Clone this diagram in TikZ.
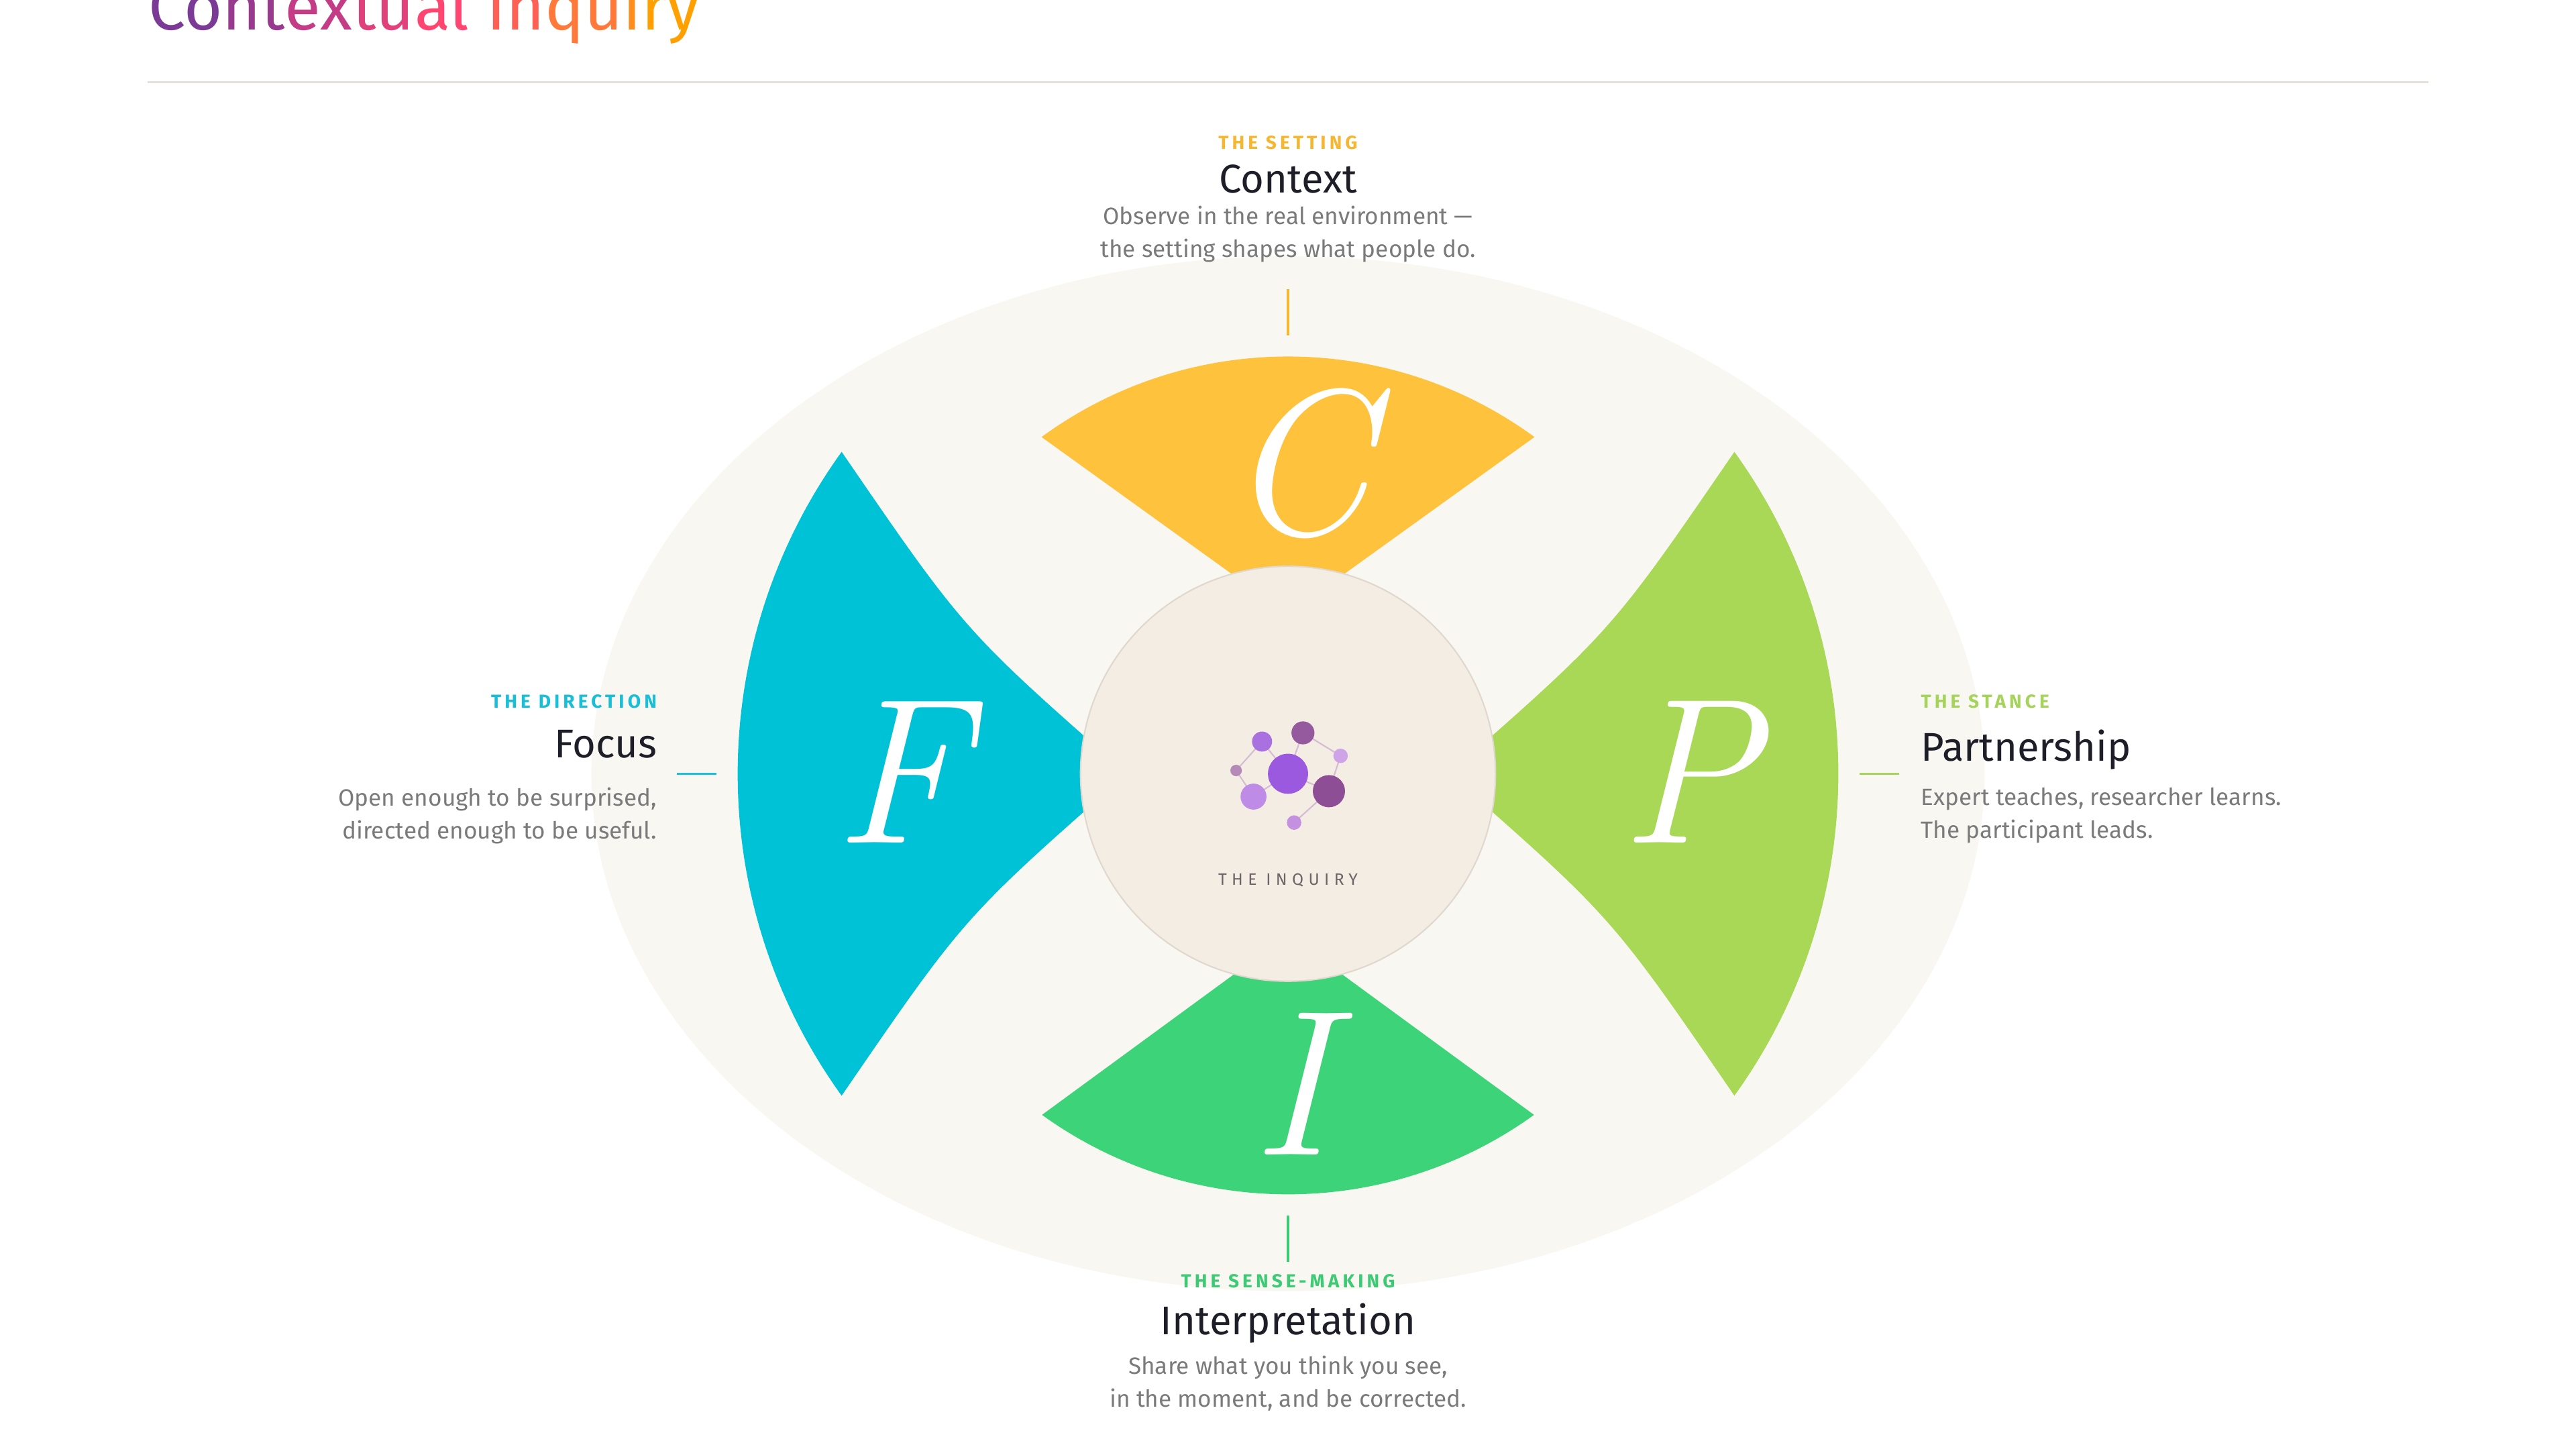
\documentclass[tikz,border=0pt]{standalone}
\usepackage{fontspec}
\setmainfont{Fira Sans}
\newfontfamily\serifit{Latin Modern Roman}
\usetikzlibrary{positioning, calc}
\definecolor{bgoval}{HTML}{F9F7F2}
\definecolor{hubfill}{HTML}{F4EDE3}
\definecolor{hubline}{HTML}{E0D8CE}
\definecolor{cyel}{HTML}{FFC23C}
\definecolor{fcyan}{HTML}{00C2D6}
\definecolor{plime}{HTML}{A8D856}
\definecolor{igreen}{HTML}{3DD378}
\definecolor{lblyel}{HTML}{F5B731}
\definecolor{lblcyan}{HTML}{19BFD6}
\definecolor{lbllime}{HTML}{A6D35B}
\definecolor{lblgreen}{HTML}{3CCB74}
\definecolor{headtxt}{HTML}{1E1E28}
\definecolor{desctxt}{HTML}{7A7A7A}
\definecolor{hubtxt}{HTML}{6E6468}
\definecolor{bond}{HTML}{C9A6CF}
\definecolor{tA}{HTML}{7B3A96}
\definecolor{tB}{HTML}{C43C85}
\definecolor{tC}{HTML}{FF4570}
\definecolor{tD}{HTML}{FF7A3A}
\definecolor{tE}{HTML}{FFA000}
\tikzstyle{kicker} = [font=\fontsize{8}{10}\selectfont\bfseries\addfontfeature{LetterSpace=18}, inner sep=0pt]
\tikzstyle{head} = [font=\fontsize{17}{20}\selectfont, text=headtxt, inner sep=0pt]
\tikzstyle{desc} = [font=\fontsize{10}{14}\selectfont, text=desctxt, inner sep=0pt]
\tikzstyle{bigletter} = [font=\serifit\itshape\fontsize{88}{88}\selectfont, text=white]
\tikzstyle{tick} = [line width=1pt]
\newcommand{\tl}[2]{\textcolor{#1}{#2}}

\begin{document}
\begin{tikzpicture}[x=0.02449cm, y=0.02449cm]
\useasboundingbox (0,0) rectangle (1568,883);
% title and rule
\node(title)[anchor=base west, inner sep=0pt, font=\fontsize{28}{30}\selectfont] at (90,865)
  {\tl{tA}{Co}\tl{tA!60!tB}{nt}\tl{tB}{ex}\tl{tB!50!tC}{tu}\tl{tC}{al} \tl{tC!50!tD}{In}\tl{tD}{qu}\tl{tD!50!tE}{i}\tl{tE}{ry}};
\draw[hubline!80, line width=0.8pt] (90,833) -- (1478,833);

% backdrop
\coordinate(ctr) at (784,412);
\fill[bgoval] (ctr) ellipse [x radius=424, y radius=315];

% petals
\fill[cyel] ($(ctr)+(0,97)$) -- ($(ctr)+(126.2:254)$) arc[start angle=126.2, end angle=53.8, radius=254] -- cycle;
\fill[igreen] ($(ctr)+(0,-98)$) -- ($(ctr)+(234.2:256)$) arc[start angle=234.2, end angle=305.8, radius=256] -- cycle;
\fill[fcyan] ($(ctr)+(-98,0)$) .. controls ($(ctr)+(-197,87)$) .. ($(ctr)+(144.2:335)$) arc[start angle=144.2, end angle=215.8, radius=335] .. controls ($(ctr)+(-197,-87)$) .. cycle;
\fill[plime] ($(ctr)+(98,0)$) .. controls ($(ctr)+(197,87)$) .. ($(ctr)+(35.8:335)$) arc[start angle=35.8, end angle=-35.8, radius=335] .. controls ($(ctr)+(197,-87)$) .. cycle;

\node(lc)[bigletter] at (790,601) {C};
\node(lf)[bigletter] at (548,413) {F};
\node(lp)[bigletter] at (1028,413) {P};
\node(li)[bigletter] at (786,223) {I};

% hub
\node(hub)[circle, minimum size=176, fill=hubfill, draw=hubline, line width=0.6pt] at (ctr) {};
\node(hublbl)[kicker, font=\fontsize{7}{9}\selectfont\addfontfeature{LetterSpace=30}, text=hubtxt] at (784,347) {THE INQUIRY};
\foreach \n/\dx/\dy in {a0/0/0, a1/-15.8/19.6, a2/9.1/24.9, a3/32/10.9, a4/-31.6/2, a5/-21/-13.9, a6/24.9/-10.6, a7/3.7/-29.7}
  \coordinate(\n) at ($(ctr)+(\dx,\dy)$);
\draw[bond, opacity=0.7, line width=0.6pt] (a0) -- (a1) -- (a4) -- (a5) -- (a0) -- (a2) -- (a3) -- (a6) -- (a0);
\draw[bond, opacity=0.7, line width=0.6pt] (a6) -- (a7);
\foreach \n/\r/\c in {a0/12.2/9B59E0, a1/6.1/A970E0, a2/7/955A9E, a3/4.4/CFA3E8, a4/3.5/B58AB8, a5/7.9/BE8BE6, a6/9.8/8E4E96, a7/4.4/C490E0}
  {\definecolor{atomc}{HTML}{\c}\fill[atomc] (\n) circle (\r);}

% top: context
\node(ctxk)[kicker, text=lblyel] at (784,796) {THE SETTING};
\node(ctxh)[head, below=6pt of ctxk] {Context};
\node(ctxd)[desc, below=5pt of ctxh, align=center] {Observe in the real environment ---\\the setting shapes what people do.};
\coordinate(ctxt1) at (784,707);
\coordinate(ctxt2) at (784,679);
\draw[tick, lblyel] (ctxt1) -- (ctxt2);

% bottom: interpretation
\coordinate(intt1) at (784,143);
\coordinate(intt2) at (784,115);
\draw[tick, lblgreen] (intt1) -- (intt2);
\node(intk)[kicker, text=lblgreen] at (784,103) {THE SENSE-MAKING};
\node(inth)[head, below=6pt of intk] {Interpretation};
\node(intd)[desc, below=5pt of inth, align=center] {Share what you think you see,\\in the moment, and be corrected.};

% left: focus
\node(fock)[kicker, text=lblcyan, anchor=east] at (400,456) {THE DIRECTION};
\node(foch)[head, anchor=north east] at (400,439) {Focus};
\node(focd)[desc, anchor=north east, align=right] at (400,404) {Open enough to be surprised,\\directed enough to be useful.};
\coordinate(foct1) at (412,412);
\coordinate(foct2) at (436,412);
\draw[tick, lblcyan] (foct1) -- (foct2);

% right: partnership
\node(park)[kicker, text=lbllime, anchor=west] at (1169,456) {THE STANCE};
\node(parh)[head, anchor=north west] at (1169,439) {Partnership};
\node(pard)[desc, anchor=north west, align=left] at (1169,404) {Expert teaches, researcher learns.\\The participant leads.};
\coordinate(part1) at (1132,412);
\coordinate(part2) at (1156,412);
\draw[tick, lbllime] (part1) -- (part2);

\end{tikzpicture}
\end{document}
